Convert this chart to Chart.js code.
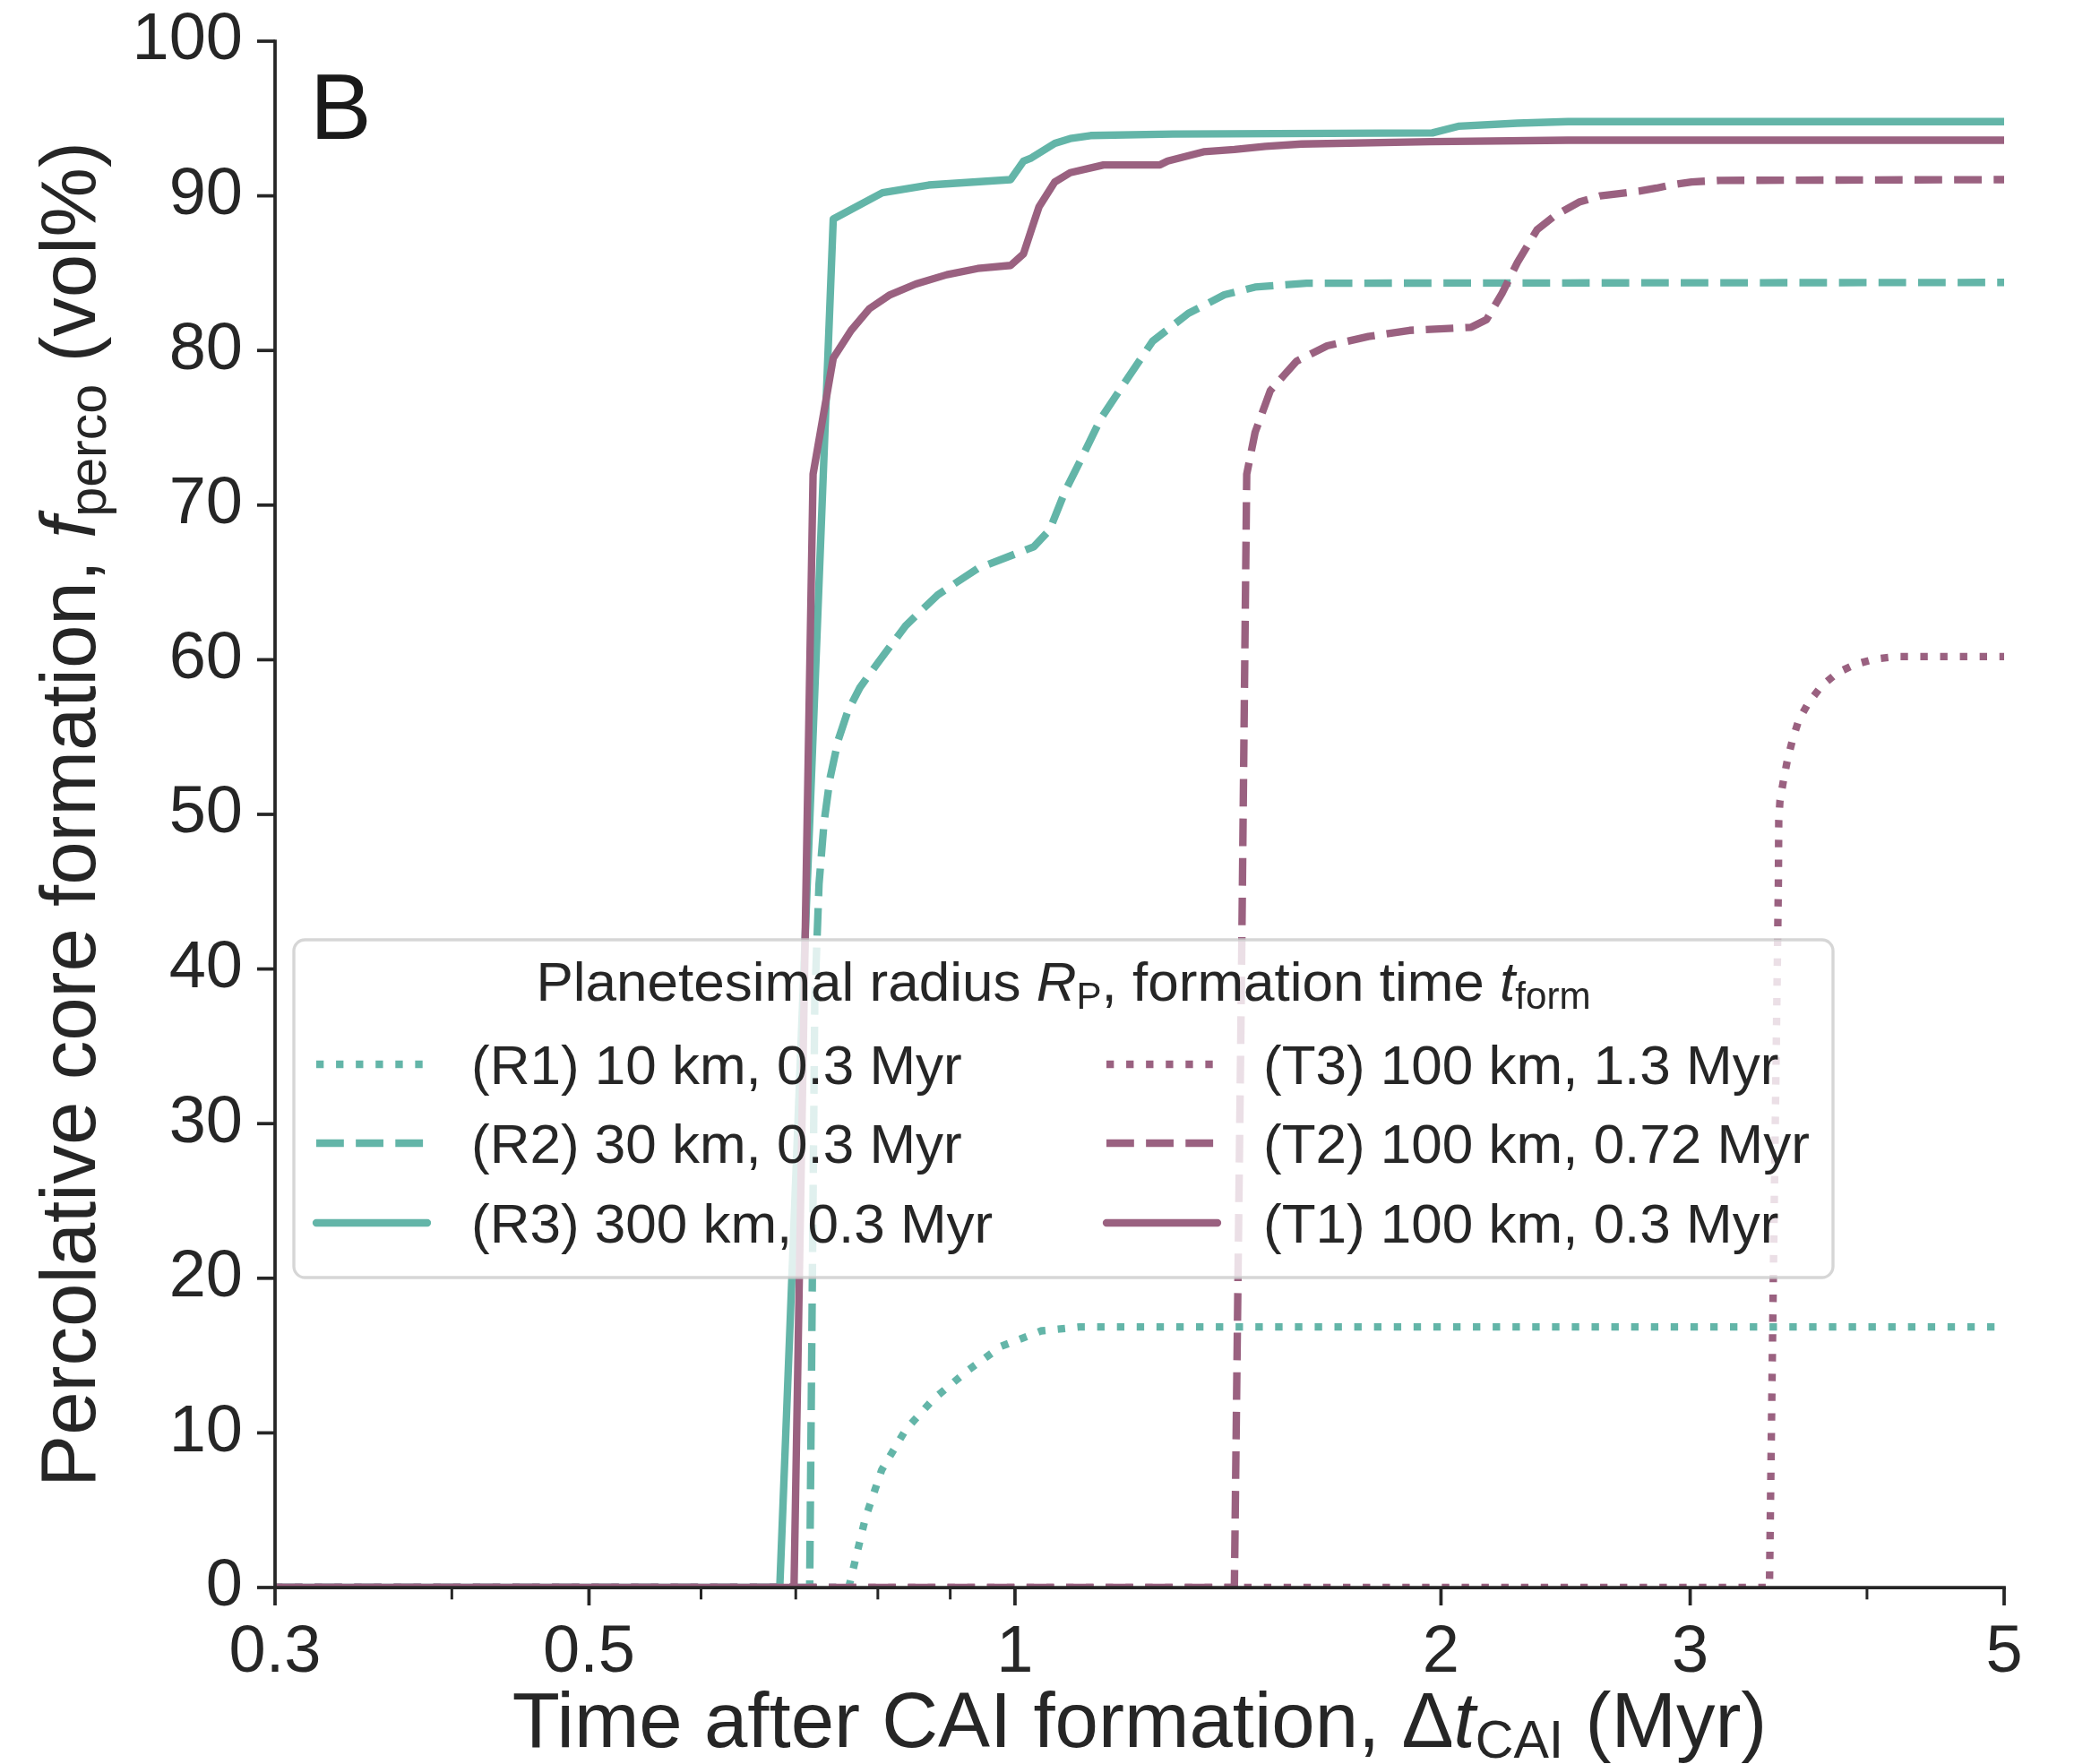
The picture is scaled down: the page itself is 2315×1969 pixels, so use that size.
<!DOCTYPE html>
<html><head><meta charset="utf-8">
<script src="https://cdn.jsdelivr.net/npm/chart.js@4.4.1/dist/chart.umd.min.js"></script>
<style>html,body{margin:0;padding:0;background:#fff;} #wrap{width:2315px;height:1969px;position:relative;}</style>
</head><body><div id="wrap"><canvas id="c"></canvas></div>
<script>
// ---- data ----
const r1X = [0.3, 0.763, 0.784, 0.805, 0.837, 0.876, 0.928, 0.978, 1.044, 1.11, 5];
const r1Y = [0, 0, 4.5, 7.6, 10.2, 12.2, 14.1, 15.6, 16.6, 16.85, 16.85];

const r2X = [0.3, 0.716, 0.722, 0.727, 0.733, 0.740, 0.750, 0.762, 0.777, 0.800, 0.837, 0.882, 0.941, 1.031, 1.058, 1.085, 1.114, 1.150, 1.189, 1.251, 1.326, 1.406, 1.478, 1.607, 5];
const r2Y = [0, 0, 38, 45.5, 49.5, 52.3, 54.8, 56.7, 58.2, 59.8, 62.2, 64.2, 65.9, 67.3, 68.4, 70.9, 73.0, 75.6, 77.6, 80.6, 82.4, 83.6, 84.1, 84.35, 84.4];

const r3X = [0.3, 0.682, 0.744, 0.806, 0.869, 0.993, 1.014, 1.027, 1.067, 1.094, 1.131, 1.293, 1.972, 2.057, 2.265, 2.459, 5];
const r3Y = [0, 0, 88.5, 90.2, 90.7, 91.05, 92.25, 92.45, 93.4, 93.7, 93.9, 94.0, 94.07, 94.5, 94.7, 94.8, 94.8];

const t3X = [0.3, 3.413, 3.44, 3.463, 3.465, 3.472, 3.492, 3.514, 3.543, 3.580, 3.636, 3.715, 3.811, 3.925, 4.051, 4.192, 5];
const t3Y = [0, 0, 25, 45.6, 49.6, 50.9, 52.2, 53.5, 54.8, 56.1, 57.2, 58.3, 59.15, 59.7, 60.05, 60.2, 60.2];

const t2X = [0.3, 1.429, 1.445, 1.458, 1.478, 1.515, 1.581, 1.662, 1.777, 1.900, 2.101, 2.154, 2.209, 2.265, 2.338, 2.406, 2.504, 2.592, 2.760, 2.840, 2.906, 3.007, 3.148, 5];
const t2Y = [0, 0, 38, 72, 74.7, 77.4, 79.3, 80.3, 80.9, 81.3, 81.5, 82.0, 83.7, 85.7, 87.8, 88.7, 89.6, 90.0, 90.3, 90.5, 90.7, 90.9, 91.0, 91.05];

const t1X = [0.3, 0.698, 0.720, 0.744, 0.766, 0.789, 0.816, 0.851, 0.895, 0.941, 0.993, 1.014, 1.027, 1.040, 1.067, 1.094, 1.155, 1.266, 1.282, 1.359, 1.429, 1.503, 1.594, 1.965, 2.459, 5];
const t1Y = [0, 0, 72, 79.5, 81.3, 82.7, 83.6, 84.3, 84.9, 85.3, 85.5, 86.25, 87.8, 89.3, 90.9, 91.5, 92.0, 92.0, 92.25, 92.85, 93.0, 93.2, 93.35, 93.5, 93.6, 93.6];

const seriesLabels = ['(R1) 10 km, 0.3 Myr', '(R2) 30 km, 0.3 Myr', '(R3) 300 km, 0.3 Myr',
                      '(T3) 100 km, 1.3 Myr', '(T2) 100 km, 0.72 Myr', '(T1) 100 km, 0.3 Myr'];

const xTickValues = [0.3, 0.4, 0.5, 0.6, 0.7, 0.8, 0.9, 1, 2, 3, 4, 5];
const xMajorTicks = [0.3, 0.5, 1, 2, 3, 5];
const xTickLabels = {0.3: '0.3', 0.5: '0.5', 1: '1', 2: '2', 3: '3', 5: '5'};
const yTickValues = [0, 10, 20, 30, 40, 50, 60, 70, 80, 90, 100];

// ---- styles ----
const TEAL = '#63b5a8';
const PURPLE = '#9a6180';
const TEXT = '#262626';
const LW = 8.33;
const DOT = [LW * 1, LW * 1.65];
const DASH = [LW * 3.7, LW * 1.6];
const FONT = "'Liberation Sans', Arial, Helvetica, sans-serif";

const pts = (xs, ys) => xs.map((x, i) => ({x: x, y: ys[i]}));
function ds(label, xs, ys, color, dash, order) {
  return {label, data: pts(xs, ys), borderColor: color, borderDash: dash, order,
    borderWidth: LW, pointRadius: 0, fill: false, tension: 0,
    borderCapStyle: 'butt', borderJoinStyle: 'round'};
}

const datasets = [
  ds(seriesLabels[0], r1X, r1Y, TEAL, DOT, 6),
  ds(seriesLabels[1], r2X, r2Y, TEAL, DASH, 5),
  ds(seriesLabels[2], r3X, r3Y, TEAL, [], 4),
  ds(seriesLabels[3], t3X, t3Y, PURPLE, DOT, 3),
  ds(seriesLabels[4], t2X, t2Y, PURPLE, DASH, 2),
  ds(seriesLabels[5], t1X, t1Y, PURPLE, [], 1)
];

function font(size, italic) { return (italic ? 'italic ' : '') + size + 'px ' + FONT; }

// parts: [{t, i(italic), s(sub)}]
function drawRich(ctx, parts, size, x, y, align) {
  const subSize = size * 0.68, shift = size * 0.14;
  let total = 0;
  const w = parts.map(p => { ctx.font = font(p.s ? subSize : size, p.i); const m = ctx.measureText(p.t).width; total += m; return m; });
  let cx = align === 'center' ? x - total / 2 : x;
  ctx.textAlign = 'left';
  ctx.textBaseline = 'alphabetic';
  parts.forEach((p, k) => {
    ctx.font = font(p.s ? subSize : size, p.i);
    ctx.fillText(p.t, cx, p.s ? y + shift : y);
    cx += w[k];
  });
}

const overlay = {
  id: 'overlay',
  afterDatasetsDraw(chart) {
    const ctx = chart.ctx;
    const ca = chart.chartArea;
    const xs = chart.scales.x, ys = chart.scales.y;
    ctx.save();
    // legend
    const L = {x0: 328, y0: 1049, x1: 2046, y1: 1426, r: 12.5};
    ctx.beginPath();
    ctx.roundRect(L.x0, L.y0, L.x1 - L.x0, L.y1 - L.y0, L.r);
    ctx.fillStyle = 'rgba(255,255,255,0.8)';
    ctx.fill();
    ctx.lineWidth = 3.33;
    ctx.strokeStyle = 'rgba(204,204,204,0.8)';
    ctx.stroke();
    ctx.fillStyle = TEXT;
    drawRich(ctx, [{t: 'Planetesimal radius '}, {t: 'R', i: true}, {t: 'P', s: true},
                   {t: ', formation time '}, {t: 't', i: true}, {t: 'form', s: true}], 62, (L.x0 + L.x1) / 2, 1117, 'center');
    const cols = [{lx: 353, tx: 526, idx: [0, 1, 2]}, {lx: 1235, tx: 1410, idx: [3, 4, 5]}];
    const rowBase = [1210, 1298, 1387];
    cols.forEach(c => {
      c.idx.forEach((di, r) => {
        const d = chart.data.datasets[di];
        const yy = rowBase[r] - 22;
        ctx.beginPath();
        ctx.setLineDash(d.borderDash || []);
        ctx.lineDashOffset = 0;
        ctx.lineCap = (d.borderDash && d.borderDash.length) ? 'butt' : 'round';
        ctx.lineWidth = LW;
        ctx.strokeStyle = d.borderColor;
        ctx.moveTo(c.lx, yy); ctx.lineTo(c.lx + 124, yy);
        ctx.stroke();
        ctx.setLineDash([]);
        ctx.fillStyle = TEXT;
        ctx.font = font(62, false);
        ctx.textAlign = 'left'; ctx.textBaseline = 'alphabetic';
        ctx.fillText(d.label, c.tx, rowBase[r]);
      });
    });
    // ticks
    ctx.strokeStyle = TEXT;
    ctx.lineCap = 'butt';
    xTickValues.forEach(v => {
      const px = xs.getPixelForValue(v);
      const major = xMajorTicks.includes(v);
      ctx.lineWidth = major ? 3.75 : 3.0;
      ctx.beginPath(); ctx.moveTo(px, ca.bottom); ctx.lineTo(px, ca.bottom + (major ? 20 : 13.3)); ctx.stroke();
    });
    ctx.lineWidth = 3.75;
    yTickValues.forEach(v => {
      const py = ys.getPixelForValue(v);
      ctx.beginPath(); ctx.moveTo(ca.left - 20, py); ctx.lineTo(ca.left, py); ctx.stroke();
    });
    // spines
    ctx.lineCap = 'square';
    ctx.beginPath(); ctx.moveTo(ca.left, ca.top); ctx.lineTo(ca.left, ca.bottom); ctx.lineTo(ca.right, ca.bottom); ctx.stroke();
    // axis titles
    ctx.fillStyle = TEXT;
    drawRich(ctx, [{t: 'Time after CAI formation, \u0394'}, {t: 't', i: true}, {t: 'CAI', s: true}, {t: ' (Myr)'}],
             87, (ca.left + ca.right) / 2, 1950, 'center');
    ctx.save();
    ctx.translate(106, (ca.top + ca.bottom) / 2);
    ctx.rotate(-Math.PI / 2);
    drawRich(ctx, [{t: 'Percolative core formation, '}, {t: 'f', i: true}, {t: 'perco', s: true}, {t: ' (vol%)'}], 87, 0, 0, 'center');
    ctx.restore();
    // panel label
    ctx.fillStyle = '#1a1a1a';
    ctx.font = font(103, false);
    ctx.textAlign = 'left'; ctx.textBaseline = 'alphabetic';
    ctx.fillText('B', 346, 155);
    ctx.restore();
  }
};

Chart.defaults.font.family = FONT;
Chart.defaults.color = TEXT;

new Chart(document.getElementById('c'), {
  type: 'line',
  data: {datasets},
  options: {
    animation: false, responsive: true, maintainAspectRatio: false, devicePixelRatio: 1,
    layout: {padding: {left: 0, right: 78, top: 46, bottom: 0}},
    plugins: {legend: {display: false}, tooltip: {enabled: false}},
    scales: {
      x: {
        type: 'logarithmic', min: 0.3, max: 5,
        afterBuildTicks: s => { s.ticks = xTickValues.map(v => ({value: v})); },
        afterFit: s => { s.height = 197; s.paddingLeft = 0; s.paddingRight = 0; },
        grid: {display: false, drawTicks: true, tickLength: 20},
        border: {display: false},
        ticks: {autoSkip: false, maxRotation: 0, minRotation: 0, padding: 9, color: TEXT,
                font: {size: 74}, callback: v => (xTickLabels[v] !== undefined ? xTickLabels[v] : '')}
      },
      y: {
        type: 'linear', min: 0, max: 100,
        afterBuildTicks: s => { s.ticks = yTickValues.map(v => ({value: v})); },
        afterFit: s => { s.width = 307; s.paddingTop = 0; s.paddingBottom = 0; },
        grid: {display: false, drawTicks: true, tickLength: 20},
        border: {display: false},
        ticks: {padding: 16, color: TEXT, font: {size: 74}, callback: v => String(v)}
      }
    }
  },
  plugins: [overlay]
});
</script>
</body></html>
